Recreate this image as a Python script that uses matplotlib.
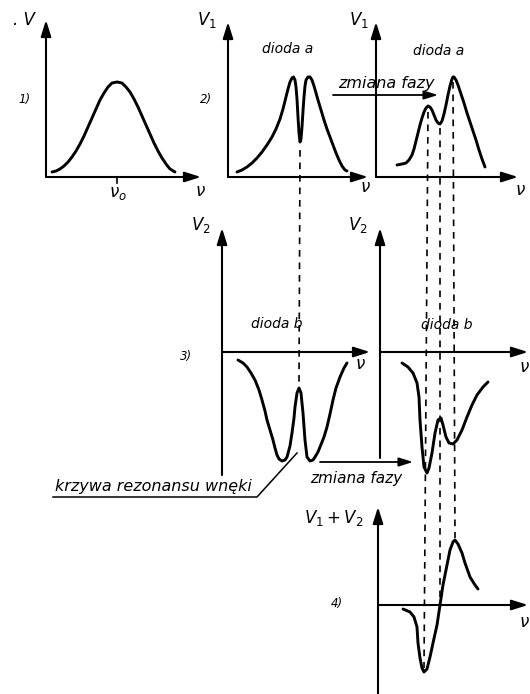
import matplotlib
matplotlib.use("Agg")
import matplotlib.pyplot as plt

# ---------------- data (panel-local units: nu to the right of the V axis, V up from the nu axis)
p1_nu = [6, 10, 14, 18, 22, 26, 30, 34, 38, 42, 46, 50, 54, 58, 62, 66, 71,
         76, 80, 84, 88, 92, 96, 100, 104, 108, 112, 116, 120, 124, 129]
p1_V  = [5, 6, 8, 11, 15, 20, 26, 33, 41, 50, 59, 68, 77, 84, 90, 94, 95,
         94, 90, 85, 78, 70, 61, 52, 43, 34, 26, 19, 13, 8, 5]

p2_nu = [9, 14, 19, 24, 29, 34, 39, 44, 48, 52, 55, 58, 60, 62, 64, 65.5, 67, 68, 69, 70,
         71, 72, 73, 74, 75, 76, 77, 78, 80, 82, 84, 86, 88, 90, 93, 96, 99, 102, 105,
         108, 111, 114, 117, 119]
p2_V  = [5, 7, 10, 14, 19, 25, 32, 40, 48, 58, 68, 80, 88, 95, 99, 100, 97, 90, 78, 60,
         44, 35, 38, 50, 66, 80, 91, 97, 100, 100, 97, 91, 84, 77, 67, 57, 48, 40, 32,
         24, 17, 11, 7, 6]

p2b_nu = [21, 26, 30, 33, 36, 38, 40, 42, 44, 46, 48, 50, 52, 54, 56, 58, 60, 62, 64, 66,
          68, 70, 72, 74, 76, 77, 78, 80, 82, 84, 86, 88, 91, 94, 97, 100, 103, 106, 109]
p2b_V  = [12, 13, 14, 17, 22, 28, 36, 44, 52, 59, 65, 69, 71, 70, 67, 62, 57, 54, 53, 56,
          63, 72, 82, 91, 98, 100, 100, 97, 92, 86, 80, 74, 64, 55, 46, 37, 27, 18, 10]

p3_nu = [16, 21, 25, 29, 33, 37, 40, 43, 45, 48, 51, 53, 55, 57, 60, 63, 65, 68, 70, 72,
         73, 75, 77, 79, 81, 83, 85, 88, 91, 93, 96, 98, 102, 105, 108, 111, 114, 118,
         122, 125]
p3_V  = [-8, -11, -15, -21, -28, -38, -48, -59, -68, -78, -88, -96, -103, -107, -109,
         -108, -105, -94, -81, -66, -55, -41, -36, -41, -61, -88, -105, -109, -108, -105,
         -100, -95, -85, -75, -62, -48, -36, -25, -16, -11]

p3b_nu = [22, 28, 33, 37, 39, 40, 42, 44, 47, 49, 52, 55, 58, 61, 63, 66, 69, 73, 77,
          82, 87, 92, 97, 103, 108]
p3b_V  = [-11, -15, -21, -31, -45, -68, -95, -115, -121, -116, -101, -81, -68, -66, -73,
          -85, -91, -92, -88, -78, -65, -53, -43, -35, -30]

p4_nu = [25, 32, 36, 39, 40, 42, 44, 46, 49, 52, 55, 59, 62, 65, 69, 72, 75, 77, 80, 84,
         87, 92, 97, 100]
p4_V  = [-4, -7, -12, -22, -38, -53, -63, -67, -64, -52, -38, -20, 0, 20, 40, 55, 63, 65,
         61, 52, 42, 28, 20, 16]

panel_labels = ["1)", "2)", "3)", "4)"]
y_labels = [". V", "$V_1$", "$V_1$", "$V_2$", "$V_2$", "$V_1 + V_2$"]
diode_a = "dioda a"
diode_b = "dioda b"
phase_text = "zmiana fazy"
cavity_text = "krzywa rezonansu wnęki"
nu_label = "ν"
nu0_label = "$\\nu_o$"

# ---------------- layout (pixel geometry)
W, H = 530, 694
fig = plt.figure(figsize=(W / 100, H / 100), dpi=100)
ax = fig.add_axes([0, 0, 1, 1])
ax.set_xlim(0, W)
ax.set_ylim(H, 0)
ax.axis("off")

# panel: origin (x0, y0), y-axis top, y-axis bottom, x-axis tip
panels = {
    "p1":  dict(o=(46, 177), ytop=20, ybot=177, xtip=201),
    "p2":  dict(o=(228, 177), ytop=22, ybot=177, xtip=368),
    "p2b": dict(o=(376, 177), ytop=22, ybot=177, xtip=518),
    "p3":  dict(o=(222, 352), ytop=228, ybot=475, xtip=370),
    "p3b": dict(o=(380, 352), ytop=228, ybot=458, xtip=528),
    "p4":  dict(o=(378, 605), ytop=507, ybot=700, xtip=528),
}

AX_LW = 1.5
CURVE_LW = 2.1


def arrow(x1, y1, x2, y2, lw=AX_LW, scale=14):
    ax.annotate("", xy=(x2, y2), xytext=(x1, y1),
                arrowprops=dict(arrowstyle="-|>,head_length=0.7,head_width=0.22",
                                lw=lw, color="black", shrinkA=0, shrinkB=0,
                                mutation_scale=scale))


def draw_axes(p):
    x0, y0 = p["o"]
    arrow(x0, p["ybot"], x0, p["ytop"])
    arrow(x0, y0, p["xtip"], y0)


def curve(p, nu, V):
    x0, y0 = p["o"]
    ax.plot([x0 + n for n in nu], [y0 - v for v in V], color="black",
            lw=CURVE_LW, solid_capstyle="round", solid_joinstyle="round")


for key in panels:
    draw_axes(panels[key])

curve(panels["p1"], p1_nu, p1_V)
curve(panels["p2"], p2_nu, p2_V)
curve(panels["p2b"], p2b_nu, p2b_V)
curve(panels["p3"], p3_nu, p3_V)
curve(panels["p3b"], p3b_nu, p3b_V)
curve(panels["p4"], p4_nu, p4_V)

# nu0 tick
ax.plot([117, 117], [177, 183], color="black", lw=1.2)

# dashed guide lines
dash = dict(color="black", lw=1.2, linestyle=(0, (4, 3.5)))
ax.plot([300, 299], [150, 386], **dash)
ax.plot([428, 424], [112, 668], **dash)
ax.plot([440, 440], [128, 602], **dash)
ax.plot([453, 455], [82, 538], **dash)

# phase change arrows
arrow(333, 95, 438, 95, lw=1.3, scale=12)
arrow(320, 462, 413, 462, lw=1.3, scale=12)

# cavity resonance leader
ax.plot([53, 257, 297], [497, 497, 453], color="black", lw=1.1)

# ---------------- texts
it = dict(style="italic", color="black", family="DejaVu Sans")
ax.text(24, 20, y_labels[0], fontsize=12, ha="center", va="center", **it)
ax.text(207, 20, y_labels[1], fontsize=12, ha="center", va="center", **it)
ax.text(359, 20, y_labels[2], fontsize=12, ha="center", va="center", **it)
ax.text(201, 225, y_labels[3], fontsize=12, ha="center", va="center", **it)
ax.text(358, 225, y_labels[4], fontsize=12, ha="center", va="center", **it)
ax.text(334, 518, y_labels[5], fontsize=12, ha="center", va="center", **it)

ax.text(24, 99, panel_labels[0], fontsize=8.5, ha="center", va="center", **it)
ax.text(206, 99, panel_labels[1], fontsize=8.5, ha="center", va="center", **it)
ax.text(186, 356, panel_labels[2], fontsize=8.5, ha="center", va="center", **it)
ax.text(337, 604, panel_labels[3], fontsize=8.5, ha="center", va="center", **it)

ax.text(288, 49, diode_a, fontsize=10, ha="center", va="center", **it)
ax.text(439, 51, diode_a, fontsize=10, ha="center", va="center", **it)
ax.text(277, 324, diode_b, fontsize=10, ha="center", va="center", **it)
ax.text(447, 325, diode_b, fontsize=10, ha="center", va="center", **it)

ax.text(386, 83, phase_text, fontsize=11.5, ha="center", va="center", **it)
ax.text(356, 478, phase_text, fontsize=11, ha="center", va="center", **it)
ax.text(153, 486, cavity_text, fontsize=11.5, ha="center", va="center", **it)

for (x, y) in [(200, 191), (365, 187), (520, 190), (360, 364), (524, 367), (524, 622)]:
    ax.text(x, y, nu_label, fontsize=12, ha="center", va="center", **it)
ax.text(118, 193, nu0_label, fontsize=12, ha="center", va="center", **it)

fig.savefig("out.png", dpi=100, facecolor="white")
